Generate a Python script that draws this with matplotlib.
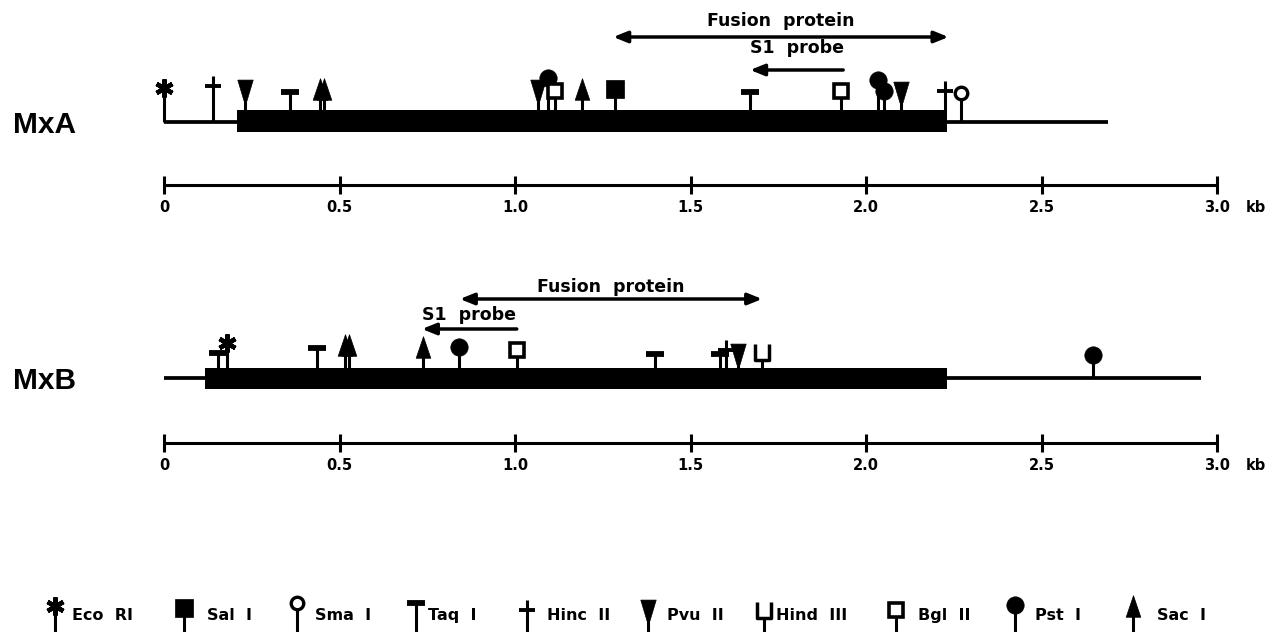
import matplotlib
matplotlib.use("Agg")
import matplotlib.pyplot as plt
from matplotlib.path import Path

# ---------------- data ----------------
enzymes = ["EcoRI", "SalI", "SmaI", "TaqI", "HincII", "PvuII", "HindIII", "BglII", "PstI", "SacI"]
enzyme_labels = ["Eco  RI", "Sal  I", "Sma  I", "Taq  I", "Hinc  II", "Pvu  II", "Hind  III", "Bgl  II", "Pst  I", "Sac  I"]

mxa_site_kb = [0.0, 0.14, 0.23, 0.36, 0.444, 0.455, 1.065, 1.095, 1.115, 1.19, 1.285,
               1.67, 1.93, 2.035, 2.05, 2.10, 2.225, 2.27]
mxa_site_enz = ["EcoRI", "HincII", "PvuII", "TaqI", "SacI", "SacI", "PvuII", "PstI", "BglII", "SacI", "SalI",
                "TaqI", "BglII", "PstI", "PstI", "PvuII", "HincII", "SmaI"]
mxa_gene_kb = [0.0, 2.69]
mxa_coding_kb = [0.208, 2.231]
mxa_fusion_kb = [1.28, 2.235]
mxa_s1_kb = [1.935, 1.67]

mxb_site_kb = [0.154, 0.18, 0.436, 0.516, 0.527, 0.738, 0.84, 1.006, 1.40, 1.585, 1.60, 1.635, 1.705, 2.646]
mxb_site_enz = ["TaqI", "EcoRI", "TaqI", "SacI", "SacI", "SacI", "PstI", "BglII", "TaqI", "TaqI", "HincII",
                "PvuII", "HindIII", "PstI"]
mxb_gene_kb = [0.0, 2.955]
mxb_coding_kb = [0.117, 2.231]
mxb_fusion_kb = [0.843, 1.704]
mxb_s1_kb = [1.005, 0.735]

scale_ticks = [0.0, 0.5, 1.0, 1.5, 2.0, 2.5, 3.0]
scale_labels = ["0", "0.5", "1.0", "1.5", "2.0", "2.5", "3.0"]

# ---------------- layout (pixels) ----------------
mxa_sym_y = [88, 86, 90, 92, 89, 89, 90, 78, 91, 89, 89, 92, 91, 80, 91, 92, 91, 93]
mxb_sym_y = [353, 343, 348, 345, 345, 347, 347, 350, 354, 354, 350, 354, 352, 355]
legend_x = [55, 184, 297, 416, 527, 648, 764, 896, 1015, 1133]
legend_text_x = [72, 207, 315, 428, 547, 667, 776, 918, 1035, 1157]
legend_sym_y = [606, 608, 603, 603, 610, 610, 610, 610, 605, 606]

W, H = 1277, 632
PX0, PXKB = 164.0, 351.0

fig = plt.figure(figsize=(W / 100, H / 100), dpi=100)
ax = fig.add_axes([0, 0, 1, 1])
ax.set_xlim(-PX0 / PXKB, (W - PX0) / PXKB)
ax.set_ylim(H, 0)
ax.axis("off")
axp = fig.add_axes([0, 0, 1, 1])
axp.set_xlim(0, W)
axp.set_ylim(H, 0)
axp.axis("off")
axp.patch.set_alpha(0)

BOLD = dict(family="DejaVu Sans", fontweight="bold", color="black")

funnel = [(-0.37, 0.5), (0.37, 0.5), (0.07, -0.5), (-0.07, -0.5), (-0.37, 0.5)]
arrowhead = [(0.0, 0.5), (0.34, -0.5), (-0.34, -0.5), (0.0, 0.5)]
u_path = Path([(-0.4, 0.5), (-0.4, -0.5), (0.4, -0.5), (0.4, 0.5)],
              [Path.MOVETO, Path.LINETO, Path.LINETO, Path.LINETO])

MK = {
    "EcoRI": dict(marker=(6, 2, 0), ms=13, mew=3.2, mfc="black", mec="black"),
    "SalI": dict(marker="s", ms=12.5, mew=0.5, mfc="black", mec="black"),
    "SmaI": dict(marker="o", ms=9, mew=2.4, mfc="white", mec="black"),
    "TaqI": dict(marker="_", ms=13, mew=4.2, mfc="black", mec="black"),
    "HincII": dict(marker="_", ms=12, mew=2.8, mfc="black", mec="black"),
    "PvuII": dict(marker=funnel, ms=15, mew=0.5, mfc="black", mec="black"),
    "HindIII": dict(marker=u_path, ms=12, mew=2.5, mfc="none", mec="black"),
    "BglII": dict(marker="s", ms=10.5, mew=2.6, mfc="white", mec="black"),
    "PstI": dict(marker="o", ms=12.5, mew=0.5, mfc="black", mec="black"),
    "SacI": dict(marker=arrowhead, ms=15.5, mew=0.5, mfc="black", mec="black"),
}
STEM_OFF = {"SmaI": 7, "BglII": 7, "HindIII": 8, "HincII": -10}


def draw_site(a, x, yc, base, enz):
    top = yc + STEM_OFF.get(enz, 0)
    a.plot([x, x], [base, top], color="black", lw=2.2, solid_capstyle="butt", zorder=3)
    a.plot([x], [yc], linestyle="none", zorder=4, **MK[enz])


panels = [
    dict(name="MxA", kb=mxa_site_kb, enz=mxa_site_enz, sym=mxa_sym_y, gene=mxa_gene_kb,
         coding=mxa_coding_kb, fusion=mxa_fusion_kb, s1=mxa_s1_kb,
         line_y=122, bar_top=110, bar_h=22, fus_y=37, fus_base=26, s1_y=70, s1_base=53,
         scale_y=185, tick_base=212, label_base=133),
    dict(name="MxB", kb=mxb_site_kb, enz=mxb_site_enz, sym=mxb_sym_y, gene=mxb_gene_kb,
         coding=mxb_coding_kb, fusion=mxb_fusion_kb, s1=mxb_s1_kb,
         line_y=378, bar_top=368, bar_h=21, fus_y=299, fus_base=292, s1_y=329, s1_base=320,
         scale_y=443, tick_base=470, label_base=389),
]

for p in panels:
    ax.plot(p["gene"], [p["line_y"], p["line_y"]], color="black", lw=2.7, solid_capstyle="butt", zorder=2)
    ax.barh(p["bar_top"] + p["bar_h"] / 2, p["coding"][1] - p["coding"][0], left=p["coding"][0],
            height=p["bar_h"], color="black", zorder=2)
    for x, e, yc in zip(p["kb"], p["enz"], p["sym"]):
        inside = p["coding"][0] <= x <= p["coding"][1] + 0.001
        base = p["bar_top"] if inside else p["line_y"]
        draw_site(ax, x, yc, base, e)
    f0, f1 = p["fusion"]
    ax.annotate("", xy=(f1, p["fus_y"]), xytext=(f0, p["fus_y"]),
                arrowprops=dict(arrowstyle="<|-|>,head_length=0.42,head_width=0.17", lw=2.5, color="black",
                                shrinkA=0, shrinkB=0, mutation_scale=20))
    ax.text((f0 + f1) / 2, p["fus_base"], "Fusion  protein", ha="center", va="baseline", fontsize=12.5, **BOLD)
    s0, s1 = p["s1"]
    ax.annotate("", xy=(s1, p["s1_y"]), xytext=(s0, p["s1_y"]),
                arrowprops=dict(arrowstyle="-|>,head_length=0.42,head_width=0.17", lw=2.5, color="black",
                                shrinkA=0, shrinkB=0, mutation_scale=20))
    ax.text((s0 + s1) / 2, p["s1_base"], "S1  probe", ha="center", va="baseline", fontsize=12.5, **BOLD)
    axp.text(13, p["label_base"], p["name"], ha="left", va="baseline", fontsize=21.5,
             family="Liberation Sans", fontweight="bold", color="black")
    sy = p["scale_y"]
    ax.plot([scale_ticks[0], scale_ticks[-1]], [sy, sy], color="black", lw=2.2, solid_capstyle="butt")
    for t, lab in zip(scale_ticks, scale_labels):
        ax.plot([t, t], [sy - 9, sy + 9], color="black", lw=2.2, solid_capstyle="butt")
        ax.text(t, p["tick_base"], lab, ha="center", va="baseline", fontsize=10.5, **BOLD)
    ax.text(scale_ticks[-1] + 0.082, p["tick_base"], "kb", ha="left", va="baseline", fontsize=10.5, **BOLD)

for e, lab, lx, tx, ly in zip(enzymes, enzyme_labels, legend_x, legend_text_x, legend_sym_y):
    draw_site(axp, lx, ly, 632, e)
    axp.text(tx, 620, lab, ha="left", va="baseline", fontsize=11.5, **BOLD)

fig.savefig("out.png", dpi=100)
